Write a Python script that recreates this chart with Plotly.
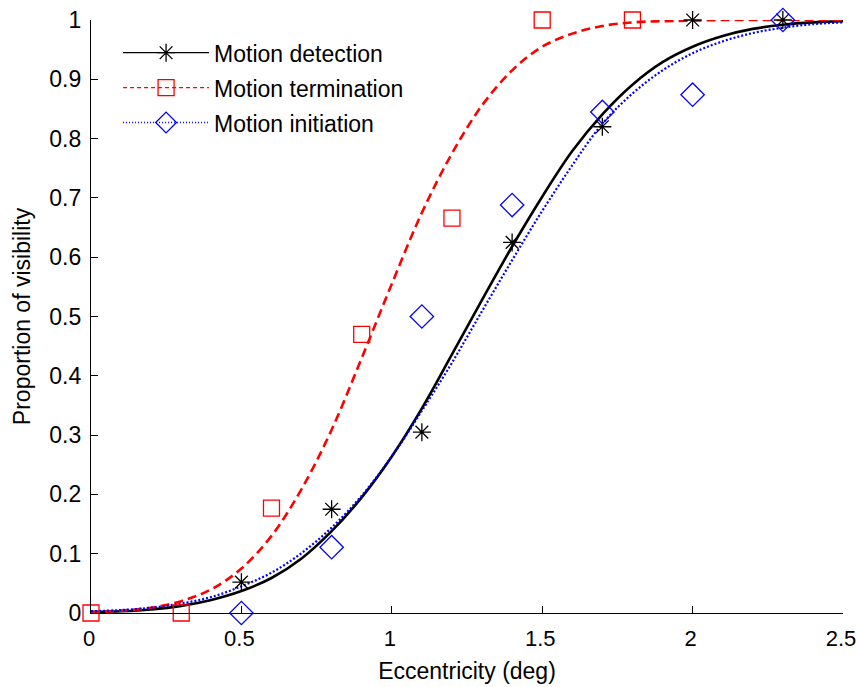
import plotly.graph_objects as go

# Observed data points
ecc_det = [0.5, 0.8, 1.1, 1.4, 1.7, 2.0, 2.3]
vis_det = [0.052, 0.175, 0.305, 0.625, 0.82, 1.0, 1.0]

ecc_term = [0.0, 0.3, 0.6, 0.9, 1.2, 1.5, 1.8]
vis_term = [0.0, 0.0, 0.177, 0.47, 0.666, 1.0, 1.0]

ecc_init = [0.5, 0.8, 1.1, 1.4, 1.7, 2.0, 2.3]
vis_init = [0.0, 0.111, 0.5, 0.688, 0.845, 0.874, 1.0]

# Fitted curves
fit_x = [0.0, 0.1, 0.2, 0.3, 0.4, 0.5, 0.6, 0.7, 0.8, 0.9, 1.0, 1.1, 1.2,
         1.3, 1.4, 1.5, 1.6, 1.7, 1.8, 1.9, 2.0, 2.1, 2.2, 2.3, 2.4, 2.5]
fit_det = [0.002, 0.003, 0.006, 0.012, 0.022, 0.037, 0.059, 0.092, 0.138, 0.195,
           0.264, 0.345, 0.436, 0.528, 0.618, 0.702, 0.779, 0.841, 0.891, 0.929,
           0.955, 0.973, 0.985, 0.992, 0.996, 0.998]
fit_term = [0.001, 0.004, 0.009, 0.020, 0.040, 0.075, 0.130, 0.209, 0.309, 0.430,
            0.555, 0.675, 0.775, 0.856, 0.915, 0.955, 0.977, 0.990, 0.996, 0.998,
            0.999, 1.0, 1.0, 1.0, 1.0, 1.0]
fit_init = [0.003, 0.005, 0.009, 0.016, 0.027, 0.045, 0.068, 0.101, 0.144, 0.198,
            0.264, 0.341, 0.422, 0.509, 0.595, 0.678, 0.755, 0.825, 0.876, 0.915,
            0.944, 0.964, 0.978, 0.987, 0.993, 0.996]

names = ["Motion detection", "Motion termination", "Motion initiation"]
x_ticks = [0, 0.5, 1, 1.5, 2, 2.5]
x_tick_text = ["0", "0.5", "1", "1.5", "2", "2.5"]
y_ticks = [0, 0.1, 0.2, 0.3, 0.4, 0.5, 0.6, 0.7, 0.8, 0.9, 1]
y_tick_text = ["0", "0.1", "0.2", "0.3", "0.4", "0.5", "0.6", "0.7", "0.8", "0.9", "1"]

FONT = "Liberation Sans, Arial, Helvetica, sans-serif"
FS = 23

styles = [
    dict(color="black", dash="solid", width=2.6, lw=1.3, symbol="asterisk-open", msize=15, mwidth=1.3),
    dict(color="#ff0000", dash="9px,5px", width=2.6, lw=1.3, symbol="square-open", msize=16, mwidth=1.3),
    dict(color="#0000ff", dash="2px,2px", width=2.2, lw=1.3, symbol="diamond-open", msize=18, mwidth=1.3),
]
legend_dash = ["solid", "4px,3px", "1px,2px"]

fig = go.Figure()
fits = [fit_det, fit_term, fit_init]
pts = [(ecc_det, vis_det), (ecc_term, vis_term), (ecc_init, vis_init)]

for i in range(3):
    s = styles[i]
    fig.add_trace(go.Scatter(
        x=fit_x, y=fits[i], mode="lines", showlegend=False,
        line=dict(color=s["color"], dash=s["dash"], width=s["width"], shape="spline"),
        cliponaxis=True, hoverinfo="skip"))
for i in range(3):
    s = styles[i]
    fig.add_trace(go.Scatter(
        x=pts[i][0], y=pts[i][1], mode="markers", showlegend=False,
        marker=dict(symbol=s["symbol"], size=s["msize"], color=s["color"],
                    line=dict(color=s["color"], width=s["mwidth"])),
        cliponaxis=False))
# legend entries
for i in range(3):
    s = styles[i]
    fig.add_trace(go.Scatter(
        x=[None], y=[None], mode="lines+markers", name=names[i],
        legendgroup="g%d" % i,
        line=dict(color=s["color"], dash=legend_dash[i], width=s["lw"]),
        marker=dict(symbol=s["symbol"], size=s["msize"], color=s["color"],
                    line=dict(color=s["color"], width=s["mwidth"]))))

fig.update_layout(
    width=857, height=687,
    margin=dict(l=91, r=14, t=20, b=74),
    paper_bgcolor="white", plot_bgcolor="white",
    font=dict(family=FONT, size=FS, color="black"),
    showlegend=True,
    legend=dict(x=0.036, y=0.981, xanchor="left", yanchor="top",
                bgcolor="rgba(255,255,255,0)", borderwidth=0,
                itemwidth=86, tracegroupgap=2,
                font=dict(family=FONT, size=FS, color="black")),
    xaxis=dict(range=[0, 2.5], tickvals=x_ticks, ticktext=x_tick_text,
               automargin=False, ticklabelstandoff=5, ticklabelshift=-2,
               ticklabeloverflow="allow",
               showgrid=False, zeroline=False, showline=True, linecolor="black",
               linewidth=1.2, ticks="inside", ticklen=7, tickcolor="black",
               title=dict(text="Eccentricity (deg)", standoff=13,
                          font=dict(family=FONT, size=FS)),
               tickfont=dict(family=FONT, size=22)),
    yaxis=dict(range=[0, 1], tickvals=y_ticks, ticktext=y_tick_text,
               automargin=False, ticklabelstandoff=4, ticklabeloverflow="allow",
               showgrid=False, zeroline=False, showline=True, linecolor="black",
               linewidth=1.2, ticks="inside", ticklen=7, tickcolor="black",
               title=dict(text="Proportion of visibility", standoff=12,
                          font=dict(family=FONT, size=FS)),
               tickfont=dict(family=FONT, size=FS)),
)

fig.write_html("out.html", config={"displayModeBar": False},
               post_script="document.body.style.margin='0';document.body.style.overflow='hidden';")
